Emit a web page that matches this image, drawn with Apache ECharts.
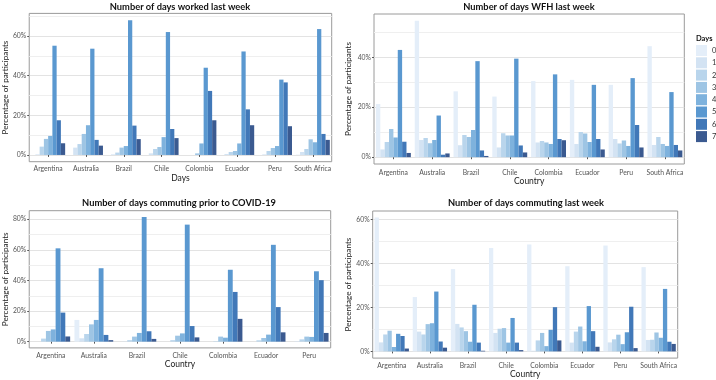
<!DOCTYPE html>
<html>
<head>
<meta charset="utf-8">
<script src="https://cdn.jsdelivr.net/npm/echarts@6/dist/echarts.min.js"></script>
<style>
  html, body { margin: 0; padding: 0; background: #fff; }
  #main { width: 716px; height: 380px; }
</style>
</head>
<body>
<div id="main"></div>
<script>
// days 0..7 (series), one row per country
const days = ['0', '1', '2', '3', '4', '5', '6', '7'];
const dayColors = ['#e4eef9', '#d3e3f3', '#b9d5ec', '#9ec5e4', '#7eb2dd', '#5a98d0', '#4178b8', '#3b5a90'];

const countries8 = ['Argentina', 'Australia', 'Brazil', 'Chile', 'Colombia', 'Ecuador', 'Peru', 'South Africa'];
const countries7 = ['Argentina', 'Australia', 'Brazil', 'Chile', 'Colombia', 'Ecuador', 'Peru'];

// Number of days worked last week (%)
const workedLastWeek = [
  [0, 0.3, 4.2, 8.1, 9.6, 55.1, 17.5, 5.9],
  [0, 3.7, 5.5, 10.6, 15, 53.6, 7.6, 4.7],
  [0, 0.3, 1.2, 3.7, 4.5, 68, 14.8, 8],
  [0, 0.8, 3, 4, 9, 62, 13.1, 8.5],
  [0, 0, 0, 0.8, 5.8, 44, 32.3, 17.5],
  [0, 0.5, 1.5, 2, 5.8, 52.2, 23, 15],
  [0, 0.3, 2, 3.5, 4.5, 38, 36.6, 14.5],
  [0.2, 1.5, 3, 7.9, 6.4, 63.5, 10.6, 7.6]
];

// Number of days WFH last week (%)
const wfhLastWeek = [
  [21.3, 3.1, 6.1, 11.3, 7.9, 43, 6.2, 1.7],
  [54.7, 6.9, 7.7, 5.6, 6.9, 16.7, 1, 1.5],
  [26.4, 4.8, 8.9, 8.1, 10.9, 38.5, 2.7, 0.5],
  [24.3, 3.9, 9.6, 8.7, 8.7, 39.5, 4.7, 1.9],
  [30.5, 5.9, 6.5, 5.9, 5.3, 33.2, 7.3, 6.8],
  [31, 5.3, 10.1, 9.5, 6.1, 29, 7.3, 3.1],
  [29, 7.3, 5.5, 6.7, 4.5, 31.7, 12.9, 3.9],
  [44.5, 4.9, 8.1, 5.3, 4.5, 26.1, 4.9, 2.7]
];

// Number of days commuting prior to COVID-19 (%)
const commutePrior = [
  [0, 0, 2, 7, 8, 61, 19, 3.4],
  [14.2, 2.2, 5, 11.3, 14.2, 48, 4.4, 1],
  [0, 0.2, 1, 3.3, 5.7, 81.5, 6.8, 1.8],
  [0, 0, 1, 3.9, 5.4, 76.5, 10.2, 2.8],
  [0, 0, 0.3, 3.3, 2.6, 47, 32.5, 14.9],
  [0, 0, 0.9, 2.4, 4.6, 63.3, 22.6, 6.1],
  [0, 0.3, 1.5, 3.3, 3.1, 46, 40.2, 5.7]
];

// Number of days commuting last week (%)
const commuteLastWeek = [
  [60.8, 4.1, 7.7, 9.4, 2, 8, 7, 1.3],
  [24.7, 9, 7.7, 12.4, 12.8, 27.2, 4.5, 1.7],
  [37.4, 12.5, 10.9, 9.2, 4.4, 21.2, 4, 0.3],
  [47, 8.4, 10.3, 10.6, 4, 15.2, 4, 0.6],
  [48.6, 0.3, 5, 8.4, 2.4, 9.8, 20.1, 5],
  [38.7, 4, 9, 11.3, 4.6, 20.6, 9.2, 2.1],
  [48.1, 4.1, 5.5, 7.6, 3.3, 8.7, 20.3, 1.5],
  [38.3, 5.2, 5.3, 8.6, 6.2, 28.4, 4.4, 3.4]
];

const ticks60 = [0, 20, 40, 60];
const ticks40 = [0, 20, 40];
const ticks80 = [0, 20, 40, 60, 80];
const minor70 = [10, 30, 50, 70];
const minor50 = [10, 30, 50];
const minor90 = [10, 30, 50, 70];

const titles = [
  'Number of days worked last week',
  'Number of days WFH last week',
  'Number of days commuting prior to COVID-19',
  'Number of days commuting last week'
];

const FONT = 'Lato';
const myChart = echarts.init(document.getElementById('main'), null, { renderer: 'canvas' });

const grids = [
  { left: 27.5, right: 384.3, top: 13.4, bottom: 218.3 },
  { left: 374, right: 31.7, top: 14, bottom: 216 },
  { left: 27.7, right: 385.3, top: 210.7, bottom: 32.1 },
  { left: 372.7, right: 38.3, top: 211, bottom: 21.3 }
];

// [min, max, labels, minor lines, name gap]
const yCfg = [
  [-3.4, 71.4, ticks60, minor70, 19],
  [-2.73, 57.4, ticks40, minor50, 22],
  [-4.08, 85.6, ticks80, minor90, 19],
  [-3.04, 63.8, ticks60, minor50, 19]
];

const xCfg = [
  { cats: countries8, name: 'Days', labelMargin: 4, nameGap: 11 },
  { cats: countries8, name: 'Country', labelMargin: 5, nameGap: 12 },
  { cats: countries7, name: 'Country', labelMargin: 4, nameGap: 11 },
  { cats: countries8, name: 'Country', labelMargin: 4, nameGap: 11 }
];

const panelData = [workedLastWeek, wfhLastWeek, commutePrior, commuteLastWeek];

const xAxes = xCfg.map(function (c, i) {
  return {
    type: 'category',
    gridIndex: i,
    data: c.cats,
    name: c.name,
    nameLocation: 'middle',
    nameGap: c.nameGap,
    nameTextStyle: { fontFamily: FONT, fontSize: 8.5, color: '#222' },
    axisLine: { show: false },
    axisTick: { show: true, alignWithLabel: true, length: 2, lineStyle: { color: '#555' } },
    axisLabel: { fontFamily: FONT, fontSize: 6.8, color: '#555', margin: c.labelMargin, interval: 0 },
    splitLine: { show: false }
  };
});

const yAxes = [];
yCfg.forEach(function (c, i) {
  yAxes.push({
    type: 'value',
    gridIndex: i,
    min: c[0],
    max: c[1],
    name: 'Percentage of participants',
    nameLocation: 'middle',
    nameGap: c[4],
    nameTextStyle: { fontFamily: FONT, fontSize: 8.2, color: '#222' },
    axisLine: { show: false },
    axisTick: { show: true, length: 2, customValues: c[2], lineStyle: { color: '#555' } },
    axisLabel: {
      fontFamily: FONT, fontSize: 6.8, color: '#555', margin: 3, customValues: c[2],
      formatter: function (v) { return v + '%'; }
    },
    splitLine: { show: true, lineStyle: { color: '#e3e3e3', width: 1 } }
  });
});
// minor grid lines
yCfg.forEach(function (c, i) {
  yAxes.push({
    type: 'value',
    gridIndex: i,
    min: c[0],
    max: c[1],
    position: 'left',
    axisLine: { show: false },
    axisTick: { show: false, customValues: c[3] },
    axisLabel: { show: false, customValues: c[3] },
    splitLine: { show: true, lineStyle: { color: '#efefef', width: 1 } }
  });
});

const series = [];
panelData.forEach(function (rows, p) {
  days.forEach(function (d, k) {
    series.push({
      type: 'bar',
      name: d,
      xAxisIndex: p,
      yAxisIndex: p,
      data: rows.map(function (r) { return r[k]; }),
      itemStyle: { color: dayColors[k] },
      barGap: 0,
      barCategoryGap: '10%'
    });
  });
});

const titleCenters = [[180, 2], [529, 2], [179, 198.5], [526, 198.5]];
const titleOpts = titles.map(function (t, i) {
  return {
    text: t,
    left: titleCenters[i][0],
    top: titleCenters[i][1],
    textAlign: 'center',
    padding: 0,
    textStyle: { fontFamily: FONT, fontSize: 9.3, fontWeight: 'bold', color: '#111' }
  };
});
titleOpts.push({
  text: 'Days', left: 696, top: 35, padding: 0,
  textStyle: { fontFamily: FONT, fontSize: 7.5, fontWeight: 'bold', color: '#111' }
});

const option = {
  animation: false,
  backgroundColor: '#fff',
  title: titleOpts,
  legend: {
    orient: 'vertical',
    left: 696,
    top: 45,
    padding: 0,
    itemWidth: 11,
    itemHeight: 11,
    itemGap: 1.3,
    icon: 'rect',
    data: days,
    textStyle: { fontFamily: FONT, fontSize: 7.5, color: '#333' }
  },
  grid: grids.map(function (g) {
    return Object.assign({ show: true, borderColor: '#9a9a9a', borderWidth: 1, containLabel: false }, g);
  }),
  xAxis: xAxes,
  yAxis: yAxes,
  series: series
};

myChart.setOption(option);
window.onresize = myChart.resize;
</script>
</body>
</html>
